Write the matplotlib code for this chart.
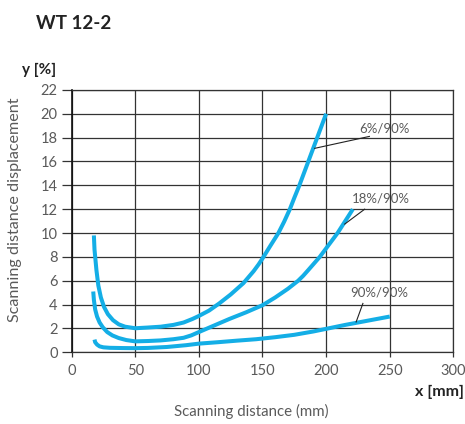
import matplotlib.pyplot as plt

# ─── Données ───────────────────────────────────────────────────────────────
x_6 = [17.5, 18, 19.5, 21, 23, 25.5, 28.5, 32.5, 37, 42, 50, 60, 70, 80, 88, 95, 100,
       108, 116, 125, 135, 143, 147, 150.5, 156, 162.5, 167, 171.5, 175, 179, 186, 193, 200]
y_6 = [9.8, 8.6, 6.9, 5.6, 4.6, 3.8, 3.2, 2.7, 2.35, 2.15, 2.02, 2.08, 2.15, 2.3, 2.5, 2.8, 3.05,
       3.5, 4.1, 4.85, 5.8, 6.8, 7.38, 7.95, 8.9, 10.0, 10.95, 12.0, 12.95, 14.0, 16.0, 18.0, 20.0]

x_18 = [17, 17.5, 18.5, 20, 22, 24.5, 28, 32, 37, 43, 50, 60, 70, 80, 88, 94, 100, 112, 124,
        137, 150, 160, 170, 178, 182, 186, 195, 202, 209, 215, 221]
y_18 = [5.1, 4.4, 3.6, 3.0, 2.5, 2.1, 1.7, 1.42, 1.2, 1.03, 0.92, 0.95, 1.0, 1.1, 1.22, 1.42, 1.7,
        2.25, 2.8, 3.35, 3.95, 4.6, 5.33, 6.0, 6.42, 6.9, 8.0, 9.0, 10.0, 11.0, 12.0]

x_90 = [18, 18.5, 20, 22, 25, 30, 40, 50, 60, 75, 90, 100, 115, 130, 145, 160, 175, 190,
        200, 215, 230, 240, 250]
y_90 = [1.07, 0.85, 0.65, 0.5, 0.42, 0.38, 0.36, 0.35, 0.37, 0.45, 0.6, 0.73, 0.85, 0.98, 1.1,
        1.27, 1.47, 1.75, 1.97, 2.3, 2.6, 2.8, 3.0]

etiquettes = ["6%/90%", "18%/90%", "90%/90%"]
pos_etiquettes = [(246, 18.8), (243, 12.9), (242, 5.0)]
# traits de rappel : (point sur la courbe, point près du texte)
rappels = [((191, 17.1), (234, 18.1)),
           ((214.6, 10.75), (230.3, 12.0)),
           ((223.6, 2.55), (228.9, 4.1))]

x_ticks = [0, 50, 100, 150, 200, 250, 300]
y_ticks = list(range(0, 23, 2))

BLEU = "#14aee6"
GRIS = "#5a5a5a"
plt.rcParams["font.family"] = ["Lato", "DejaVu Sans"]

# ─── Figure ──────────────────────────────────────────────────────────────────
fig = plt.figure(figsize=(4.65, 4.24), dpi=100)
ax = fig.add_axes([0.154, 0.169, 0.821, 0.619])

for xs, ys in [(x_6, y_6), (x_18, y_18), (x_90, y_90)]:
    ax.plot(xs, ys, color=BLEU, linewidth=2.9, solid_capstyle="butt",
            solid_joinstyle="round", zorder=3)

for txt, (tx, ty) in zip(etiquettes, pos_etiquettes):
    ax.text(tx, ty, txt, color=GRIS, fontsize=9.5, ha="center", va="center", zorder=4)
for (x0, y0), (x1, y1) in rappels:
    ax.plot([x0, x1], [y0, y1], color="#222222", linewidth=0.8, zorder=4)

ax.set_xlim(0, 300)
ax.set_ylim(0, 22)
ax.set_xticks(x_ticks)
ax.set_yticks(y_ticks)
ax.grid(True, color="#333333", linewidth=0.9)
ax.set_axisbelow(True)
for s in ax.spines.values():
    s.set_color("#333333")
    s.set_linewidth(0.9)
ax.spines["left"].set_color("#111111")
ax.spines["left"].set_linewidth(1.2)
ax.tick_params(axis="y", length=7, width=0.9, color="#333333", labelcolor=GRIS,
               labelsize=10.5, pad=3)
ax.tick_params(axis="x", length=3.5, width=0.9, color="#333333", labelcolor=GRIS,
               labelsize=10.5, pad=5)

fig.text(0.078, 0.945, "WT 12-2", fontsize=13.5, fontweight="bold", color="#222222",
         ha="left", va="center")
fig.text(0.047, 0.835, "y [%]", fontsize=11, fontweight="bold", color="#222222",
         ha="left", va="center")
fig.text(0.998, 0.075, "x [mm]", fontsize=11.5, fontweight="bold", color="#222222",
         ha="right", va="center")
fig.text(0.033, 0.505, "Scanning distance displacement", fontsize=11.6, color=GRIS,
         rotation=90, ha="center", va="center")
fig.text(0.54, 0.03, "Scanning distance (mm)", fontsize=10.8, color=GRIS,
         ha="center", va="center")

fig.savefig("out.png", dpi=100)
